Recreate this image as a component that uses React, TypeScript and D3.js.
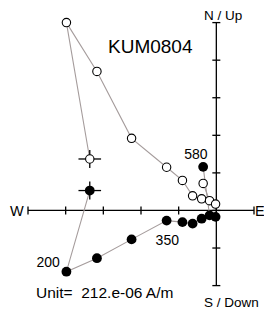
import React from "react";
import * as d3 from "d3";

const steps = ["NRM", "200", "250", "300", "350", "400", "450", "500", "530", "560", "580"];
const east = [-3.36, -3.98, -3.17, -2.25, -1.32, -0.9, -0.63, -0.39, -0.18, -0.02, -0.35];
const north = [0.53, -1.63, -1.27, -0.77, -0.27, -0.31, -0.35, -0.22, -0.13, -0.17, 1.16];
const up = [1.37, 5.0, 3.7, 1.92, 1.15, 0.8, 0.39, 0.31, 0.26, 0.17, 0.72];
const errorX = 0.3;
const errorY = 0.24;
const xTicks = [-5, -4, -3, -2, -1, 0, 1];
const yTicks = [-2, -1, 0, 1, 2, 3, 4, 5];
const title = "KUM0804";
const unitLabel = "Unit=\u00a0\u00a0212.e-06 A/m";

export default function App() {
  const x = d3.scaleLinear().domain([-5, 1]).range([28, 254]);
  const y = d3.scaleLinear().domain([-2, 5]).range([285.6, 22.6]);
  const line = d3
    .line<[number, number]>()
    .x((d) => x(d[0]))
    .y((d) => y(d[1]));
  const horiz: [number, number][] = east.map((e, i) => [e, north[i]]);
  const vert: [number, number][] = east.map((e, i) => [e, up[i]]);
  const order = [0, 1, 2, 3, 4, 5, 6, 7, 8, 9];
  const pathOrder = (pts: [number, number][]) => {
    const main = order.map((i) => pts[i]);
    return line(main) + line([pts[8], pts[10]])!;
  };
  const font = "Liberation Sans, Arial, sans-serif";
  const lineColor = "#a59c9c";
  const i200 = steps.indexOf("200");
  const i350 = steps.indexOf("350");
  const i580 = steps.indexOf("580");
  return (
    <svg width={264} height={312} style={{ position: "absolute", left: 0, top: 0 }}>
      <rect width={264} height={312} fill="#fff" />
      {/* axes */}
      <g stroke="#000" strokeWidth={1.3}>
        <line x1={x(-5)} x2={x(1)} y1={y(0)} y2={y(0)} />
        <line x1={x(0)} x2={x(0)} y1={y(-2)} y2={y(5)} />
        {xTicks.map((t) => (
          <line key={"xt" + t} x1={x(t)} x2={x(t)} y1={y(0) - 4} y2={y(0) + 4} />
        ))}
        {yTicks.map((t) => (
          <line key={"yt" + t} x1={x(0) - 4} x2={x(0) + 4} y1={y(t)} y2={y(t)} />
        ))}
      </g>
      {/* connecting lines */}
      <path d={pathOrder(horiz)} fill="none" stroke={lineColor} strokeWidth={1.1} />
      <path d={pathOrder(vert)} fill="none" stroke={lineColor} strokeWidth={1.1} />
      {/* error crosses for first step */}
      <g stroke="#000" strokeWidth={1.3}>
        {[horiz[0], vert[0]].map((p, k) => (
          <g key={"err" + k}>
            <line x1={x(p[0] - errorX)} x2={x(p[0] + errorX)} y1={y(p[1])} y2={y(p[1])} />
            <line x1={x(p[0])} x2={x(p[0])} y1={y(p[1] - errorY)} y2={y(p[1] + errorY)} />
          </g>
        ))}
      </g>
      {/* points */}
      {vert.map((p, i) => (
        <circle key={"v" + i} cx={x(p[0])} cy={y(p[1])} r={4.2} fill="#fff" stroke="#000" strokeWidth={1.1} />
      ))}
      {horiz.map((p, i) => (
        <circle key={"h" + i} cx={x(p[0])} cy={y(p[1])} r={4.9} fill="#000" />
      ))}
      {/* labels */}
      <g fontFamily={font} fill="#000">
        <text x={108} y={52.7} fontSize={19}>{title}</text>
        <text x={204} y={20} fontSize={13.5}>N / Up</text>
        <text x={204} y={306.5} fontSize={13.5}>S / Down</text>
        <text x={10} y={215.5} fontSize={14.5}>W</text>
        <text x={255} y={215.5} fontSize={14.5}>E</text>
        <text x={x(horiz[i580][0]) - 19} y={159} fontSize={14}>{steps[i580]}</text>
        <text x={x(horiz[i350][0]) - 11} y={245} fontSize={14}>{steps[i350]}</text>
        <text x={x(horiz[i200][0]) - 30} y={267} fontSize={14}>{steps[i200]}</text>
        <text x={36} y={298} fontSize={15.5}>{unitLabel}</text>
      </g>
    </svg>
  );
}
